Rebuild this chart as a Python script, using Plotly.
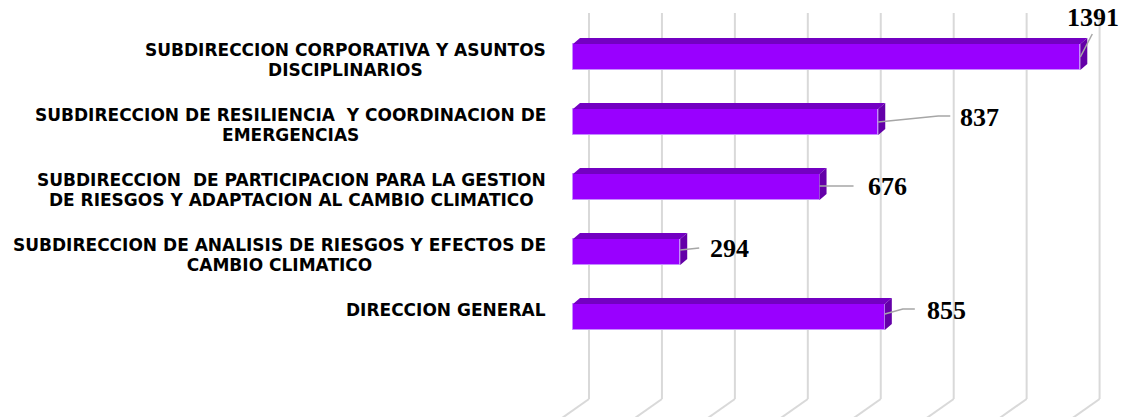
import plotly.graph_objects as go

# categories from bottom to top (plotly draws the first one at the bottom)
categories = [
    "DIRECCION GENERAL",
    "SUBDIRECCION DE ANALISIS DE RIESGOS Y EFECTOS DE<br>CAMBIO CLIMATICO",
    "SUBDIRECCION\u00a0 DE PARTICIPACION PARA LA GESTION<br>DE RIESGOS Y ADAPTACION AL CAMBIO CLIMATICO",
    "SUBDIRECCION DE RESILIENCIA\u00a0 Y COORDINACION DE<br>EMERGENCIAS",
    "SUBDIRECCION CORPORATIVA Y ASUNTOS<br>DISCIPLINARIOS",
]
values = [855, 294, 676, 837, 1391]
grid_ticks = [0, 200, 400, 600, 800, 1000, 1200, 1400]

W, H = 1126, 417
X0, PXX = 573, 0.3647   # pixel of value 0, pixels per unit
Y_TOP, PXY = 57, 65     # pixel of top bar centre, pixels per category


def ux(px):
    return px / PXX


def uy(px):
    return px / PXY


n = len(values)
ypos = list(range(n))
bar_w = 0.4
dx, dy = ux(7), uy(6)

FRONT = "#9900FF"
TOP = "#7300C2"
SIDE = "#6400A8"
GRID = "#d9d9d9"
LEADER = "#a6a6a6"

fig = go.Figure()

# back wall + floor gridlines (3d look), kept below the bars
y_wall_top = (n - 1) + uy(Y_TOP - 13)
y_floor = (n - 1) - uy(399 - Y_TOP)
y_front = (n - 1) - uy(430 - Y_TOP)
for t in grid_ticks:
    x = t + ux(16)
    fig.add_shape(type="line", x0=x, x1=x, y0=y_wall_top, y1=y_floor, layer="below",
                  line=dict(color=GRID, width=2))
    fig.add_shape(type="line", x0=x, x1=x - ux(44), y0=y_floor, y1=y_front, layer="below",
                  line=dict(color=GRID, width=2))

# front face
fig.add_trace(go.Bar(x=values, y=ypos, orientation="h", width=bar_w,
                     marker=dict(color=FRONT, line=dict(color="#c58cff", width=1)),
                     showlegend=False))

# top and side faces
tx, ty, sx, sy = [], [], [], []
for v, c in zip(values, ypos):
    top, bot = c + bar_w / 2, c - bar_w / 2
    tx += [0, v, v + dx, dx, 0, None]
    ty += [top, top, top + dy, top + dy, top, None]
    sx += [v, v, v + dx, v + dx, v, None]
    sy += [bot, top, top + dy, bot + dy, bot, None]
fig.add_trace(go.Scatter(x=tx, y=ty, fill="toself", fillcolor=TOP, mode="lines",
                         line=dict(width=0, color=TOP), hoverinfo="skip", showlegend=False))
fig.add_trace(go.Scatter(x=sx, y=sy, fill="toself", fillcolor=SIDE, mode="lines",
                         line=dict(width=0, color=SIDE), hoverinfo="skip", showlegend=False))

# leader lines (pixel offsets from the bar end) and value labels
leaders = [
    [(0, -3), (18, -8), (30, -8)],
    [(0, -2), (19, -4)],
    [(0, -1), (34, -1)],
    [(0, 0), (60, -6), (72, -6)],
    [(0, 0), (12, -23)],
]
label_off = [(40, -7, "left"), (28, -4, "left"), (46, -1, "left"), (80, -5, "left"), (13, -40, "center")]

lx, ly = [], []
for v, c, pts in zip(values, ypos, leaders):
    for px, py in pts:
        lx.append(v + ux(px))
        ly.append(c - uy(py))
    lx.append(None)
    ly.append(None)
fig.add_trace(go.Scatter(x=lx, y=ly, mode="lines", line=dict(color=LEADER, width=1.5),
                         hoverinfo="skip", showlegend=False))

for v, c, (ox, oy, anc) in zip(values, ypos, label_off):
    fig.add_annotation(x=v + ux(ox), y=c - uy(oy), text=str(v), showarrow=False,
                       xanchor=anc, yanchor="middle",
                       font=dict(family="Liberation Serif", size=26, color="black", weight="bold"))

# category labels, top-aligned a bit above the bar centre
span = '<span style="font-size:17px">'
for cat, c in zip(categories, ypos):
    fig.add_annotation(x=ux(548 - X0), y=c, yshift=19, showarrow=False,
                       xanchor="right", yanchor="top", align="center",
                       text=span + cat.replace("<br>", "</span><br>" + span) + "</span>",
                       font=dict(family="DejaVu Sans", size=15, color="black", weight="bold"))

fig.update_layout(
    width=W, height=H,
    margin=dict(l=0, r=0, t=0, b=0),
    plot_bgcolor="white", paper_bgcolor="white",
    bargap=0,
    xaxis=dict(range=[ux(-X0), ux(W - X0)], visible=False, fixedrange=True),
    yaxis=dict(range=[(n - 1) - uy(H - Y_TOP), (n - 1) + uy(Y_TOP)], visible=False, fixedrange=True),
)

fig.write_html("out.html", config={"displayModeBar": False},
               post_script="document.body.style.margin='0';")
